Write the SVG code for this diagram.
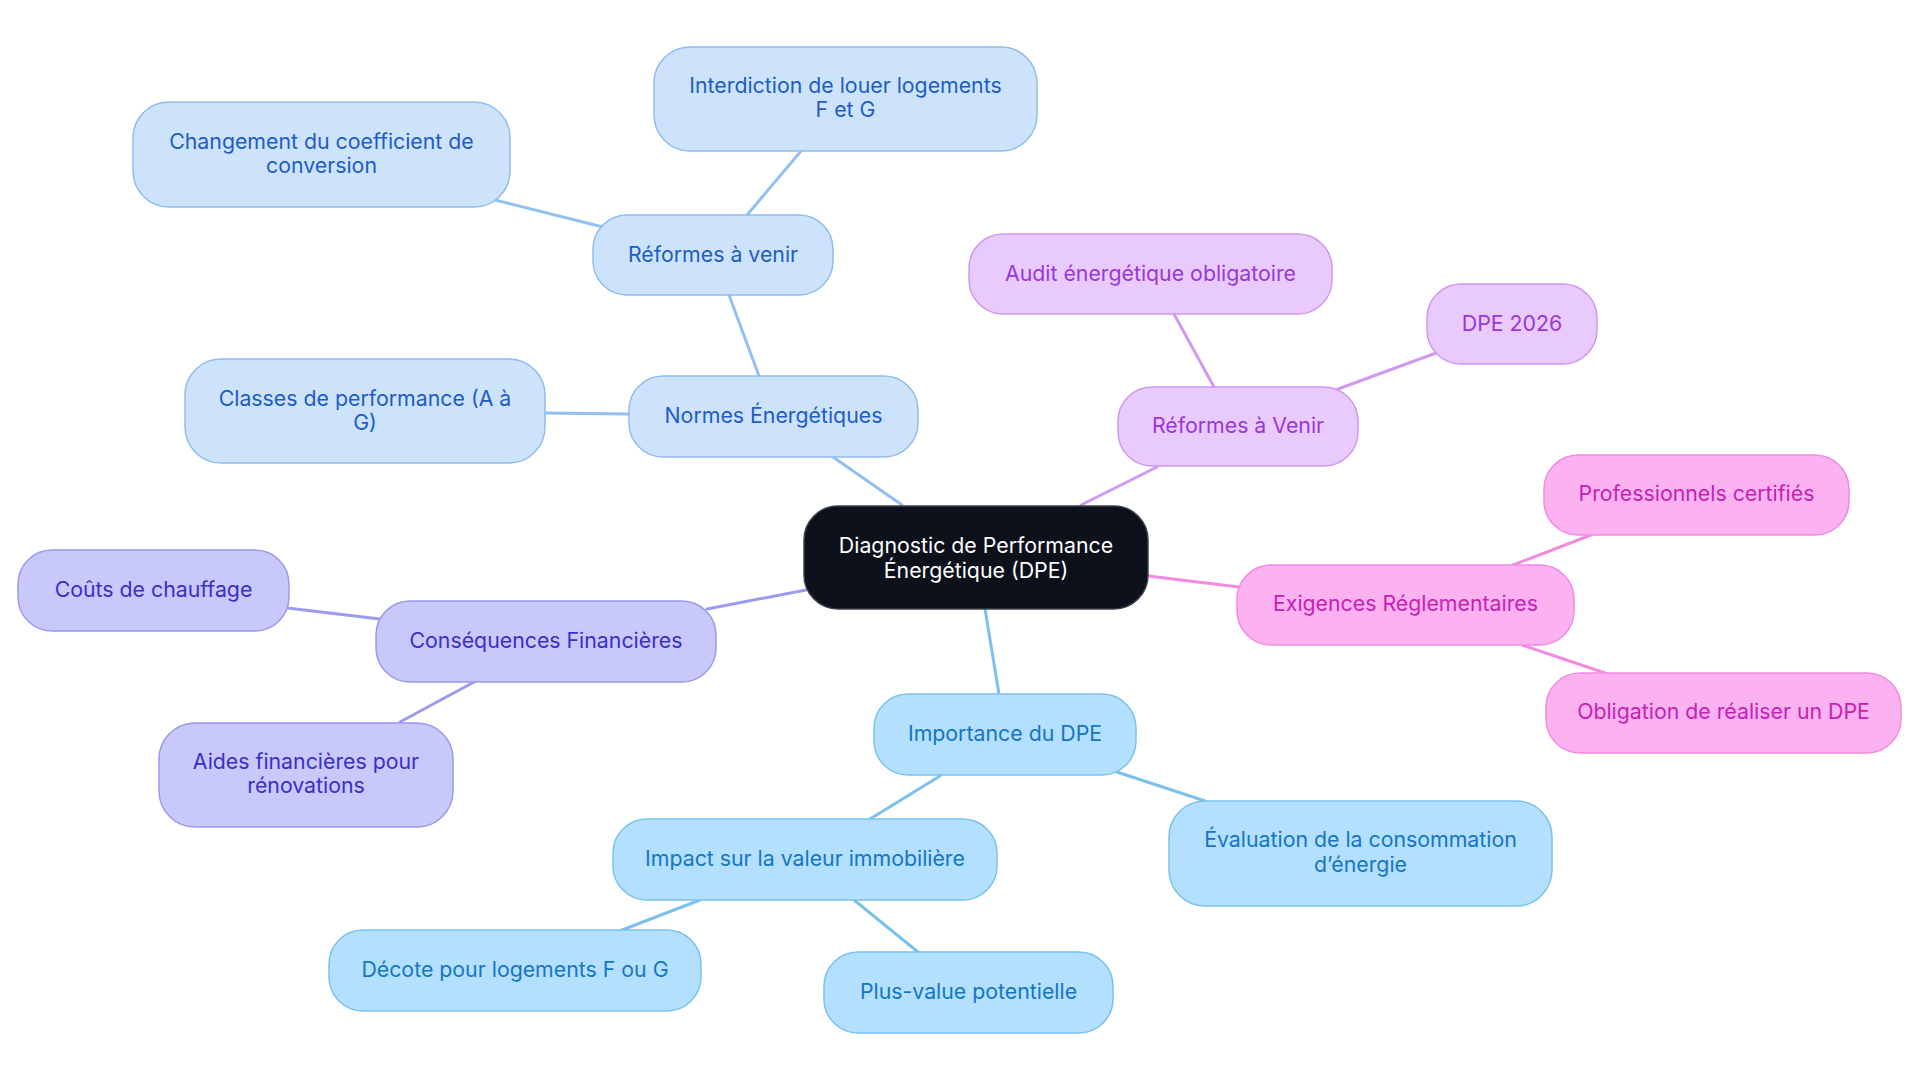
<svg xmlns="http://www.w3.org/2000/svg" width="1920" height="1083" viewBox="0 0 1920 1083">
<style>
text{font-family:Inter,"Noto Sans","Liberation Sans",sans-serif;font-size:21.3px;text-anchor:middle;dominant-baseline:central}
.c line{stroke-width:3;stroke-linecap:round}
.b1 rect{fill:#CDE3FB;stroke:#90BDEE;stroke-width:1.5}
.b1 text{fill:#1D5CC9}
.b2 rect{fill:#C8C8FB;stroke:#9B98EE;stroke-width:1.5}
.b2 text{fill:#3A2FC9}
.b3 rect{fill:#E8CBFC;stroke:#CF98EF;stroke-width:1.5}
.b3 text{fill:#9A36DB}
.b4 rect{fill:#FCB1F1;stroke:#F08BE2;stroke-width:1.5}
.b4 text{fill:#C61FB5}
.b5 rect{fill:#B3E0FE;stroke:#7BC1EE;stroke-width:1.5}
.b5 text{fill:#1576C7}
.root rect{fill:#0C111B;stroke:#3B4049;stroke-width:1.5}
.root text{fill:#FFFFFF}
</style>
<rect width="1920" height="1083" fill="#FFFFFF"/>
<g id="connectors" class="c">
<line x1="902" y1="505" x2="833" y2="457" stroke="#93C0F0"/>
<line x1="759" y1="376" x2="729" y2="295" stroke="#93C0F0"/>
<line x1="629" y1="414" x2="545" y2="413" stroke="#93C0F0"/>
<line x1="747" y1="215" x2="801" y2="151" stroke="#93C0F0"/>
<line x1="603" y1="227" x2="495" y2="200" stroke="#93C0F0"/>
<line x1="806" y1="590" x2="707" y2="609" stroke="#9D9AF2"/>
<line x1="380" y1="619" x2="287" y2="608" stroke="#9D9AF2"/>
<line x1="474" y1="682" x2="400" y2="722" stroke="#9D9AF2"/>
<line x1="1081" y1="505" x2="1157" y2="467" stroke="#D09AF0"/>
<line x1="1214" y1="387" x2="1174" y2="314" stroke="#D09AF0"/>
<line x1="1338" y1="389" x2="1436" y2="353" stroke="#D09AF0"/>
<line x1="1148" y1="576" x2="1239" y2="587" stroke="#F08BE2"/>
<line x1="1513" y1="565" x2="1591" y2="535" stroke="#F08BE2"/>
<line x1="1522" y1="645" x2="1605" y2="673" stroke="#F08BE2"/>
<line x1="985" y1="609" x2="999" y2="694" stroke="#7CC0EE"/>
<line x1="940" y1="776" x2="870" y2="819" stroke="#7CC0EE"/>
<line x1="1117" y1="772" x2="1205" y2="801" stroke="#7CC0EE"/>
<line x1="700" y1="900" x2="622" y2="930" stroke="#7CC0EE"/>
<line x1="854" y1="900" x2="918" y2="952" stroke="#7CC0EE"/>
</g>
<g id="root" class="root"><rect x="804" y="506" width="344" height="103" rx="34"/><text x="976" y="545">Diagnostic de Performance</text><text x="976" y="569.5">Énergétique (DPE)</text></g>
<g id="normes" class="b1"><rect x="629" y="376" width="289" height="81" rx="34"/><text x="773.5" y="415">Normes Énergétiques</text></g>
<g id="reformes-venir" class="b1"><rect x="593" y="215" width="240" height="80" rx="34"/><text x="713" y="254">Réformes à venir</text></g>
<g id="interdiction" class="b1"><rect x="654" y="47" width="383" height="104" rx="36"/><text x="845.5" y="85">Interdiction de louer logements</text><text x="845.5" y="109">F et G</text></g>
<g id="changement" class="b1"><rect x="133" y="102" width="377" height="105" rx="36"/><text x="321.5" y="141">Changement du coefficient de</text><text x="321.5" y="165">conversion</text></g>
<g id="classes" class="b1"><rect x="185" y="359" width="360" height="104" rx="36"/><text x="365" y="398">Classes de performance (A à</text><text x="365" y="422">G)</text></g>
<g id="consequences" class="b2"><rect x="376" y="601" width="340" height="81" rx="34"/><text x="546" y="640">Conséquences Financières</text></g>
<g id="couts" class="b2"><rect x="18" y="550" width="271" height="81" rx="34"/><text x="153.5" y="589">Coûts de chauffage</text></g>
<g id="aides" class="b2"><rect x="159" y="723" width="294" height="104" rx="36"/><text x="306" y="761">Aides financières pour</text><text x="306" y="785">rénovations</text></g>
<g id="reformes-Venir" class="b3"><rect x="1118" y="387" width="240" height="79" rx="34"/><text x="1238" y="425">Réformes à Venir</text></g>
<g id="audit" class="b3"><rect x="969" y="234" width="363" height="80" rx="34"/><text x="1150.5" y="273">Audit énergétique obligatoire</text></g>
<g id="dpe2026" class="b3"><rect x="1427" y="284" width="170" height="80" rx="34"/><text x="1512" y="323">DPE 2026</text></g>
<g id="exigences" class="b4"><rect x="1237" y="565" width="337" height="80" rx="34"/><text x="1405.5" y="603">Exigences Réglementaires</text></g>
<g id="professionnels" class="b4"><rect x="1544" y="455" width="305" height="80" rx="34"/><text x="1696.5" y="493">Professionnels certifiés</text></g>
<g id="obligation" class="b4"><rect x="1546" y="673" width="355" height="80" rx="34"/><text x="1723.5" y="711">Obligation de réaliser un DPE</text></g>
<g id="importance" class="b5"><rect x="874" y="694" width="262" height="81" rx="34"/><text x="1005" y="733">Importance du DPE</text></g>
<g id="impact" class="b5"><rect x="613" y="819" width="384" height="81" rx="34"/><text x="805" y="858">Impact sur la valeur immobilière</text></g>
<g id="evaluation" class="b5"><rect x="1169" y="801" width="383" height="105" rx="36"/><text x="1360.5" y="839">Évaluation de la consommation</text><text x="1360.5" y="864">d’énergie</text></g>
<g id="decote" class="b5"><rect x="329" y="930" width="372" height="81" rx="34"/><text x="515" y="969">Décote pour logements F ou G</text></g>
<g id="plusvalue" class="b5"><rect x="824" y="952" width="289" height="81" rx="34"/><text x="968.5" y="991">Plus-value potentielle</text></g>
</svg>
